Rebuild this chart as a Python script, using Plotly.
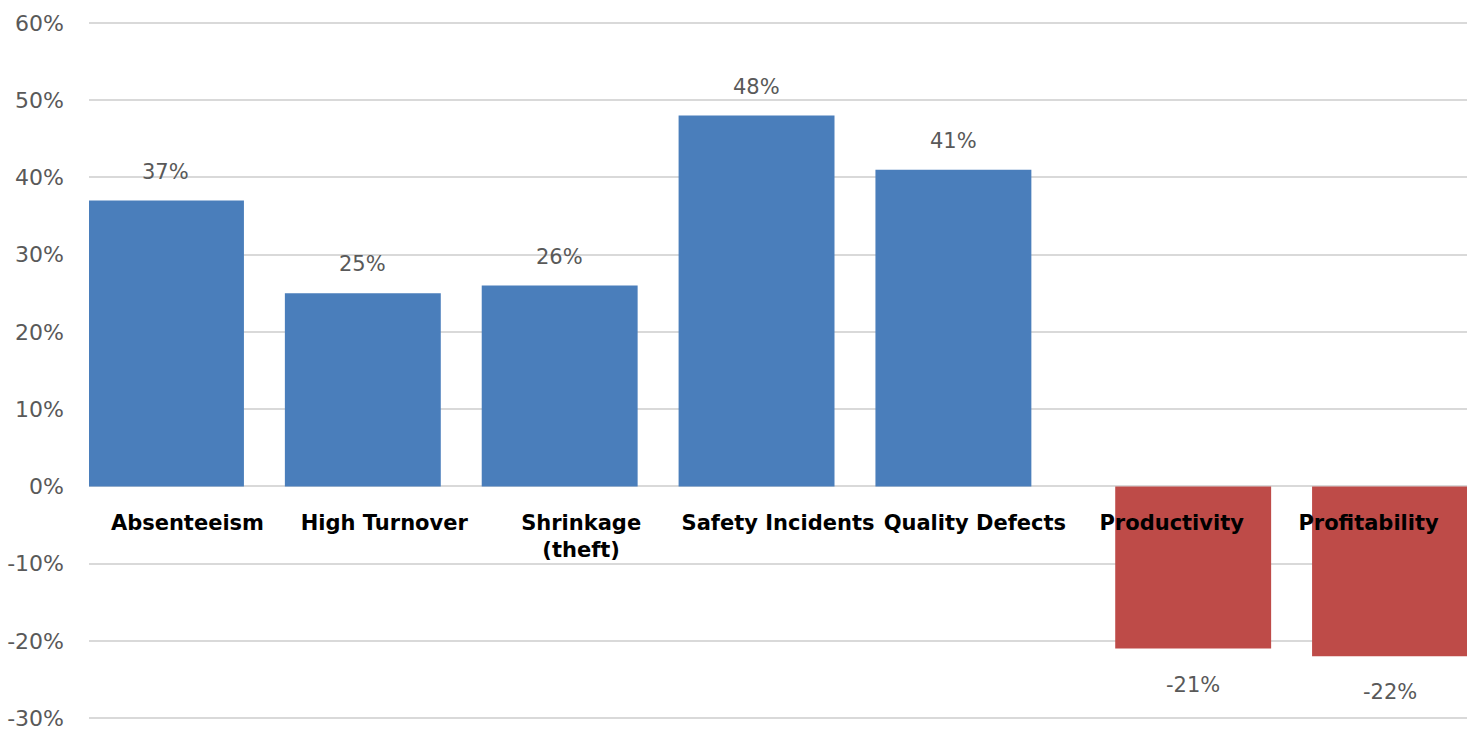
import plotly.graph_objects as go

categories = ["Absenteeism", "High Turnover", "Shrinkage<br>(theft)", "Safety Incidents",
              "Quality Defects", "Productivity", "Profitability"]
increase_values = [37, 25, 26, 48, 41, None, None]
decrease_values = [None, None, None, None, None, -21, -22]
y_ticks = [-30, -20, -10, 0, 10, 20, 30, 40, 50, 60]
y_tick_labels = [f"{v}%" for v in y_ticks]

BLUE = "#4A7EBB"
RED = "#BE4B48"
GRID = "#D9D9D9"
LABEL_GRAY = "#595959"
FONT = "DejaVu Sans"

y_min, y_max = -30.5, 60.5
bar_w = 0.792

fig = go.Figure()
fig.add_trace(go.Bar(x=categories, y=increase_values, marker_color=BLUE,
                     width=bar_w, offset=-0.505, marker_line_width=0,
                     showlegend=False, hoverinfo="skip"))
fig.add_trace(go.Bar(x=categories, y=decrease_values, marker_color=RED,
                     width=bar_w, offset=-0.287, marker_line_width=0,
                     showlegend=False, hoverinfo="skip"))

annotations = []
for i, v in enumerate(increase_values):
    if v is not None:
        annotations.append(dict(x=i - 0.109, y=v, xref="x", yref="y", text=f"{v}%",
                                showarrow=False, yshift=29, yanchor="middle",
                                font=dict(family=FONT, size=21, color=LABEL_GRAY)))
for i, v in enumerate(decrease_values):
    if v is not None:
        annotations.append(dict(x=i + 0.109, y=v, xref="x", yref="y", text=f"{v}%",
                                showarrow=False, yshift=-36, yanchor="middle",
                                font=dict(family=FONT, size=21, color=LABEL_GRAY)))

zero_pos = (0 - y_min) / (y_max - y_min)

fig.update_layout(
    width=1476, height=735,
    margin=dict(l=89, r=9, t=19, b=13),
    paper_bgcolor="white", plot_bgcolor="white",
    barmode="overlay",
    annotations=annotations,
    xaxis=dict(type="category", categoryorder="array", categoryarray=categories,
               range=[-0.5, 6.5], anchor="free", position=zero_pos,
               showgrid=False, showline=False, zeroline=False, automargin=False,
               ticks="outside", ticklen=17, tickcolor="rgba(0,0,0,0)",
               tickfont=dict(family=FONT, size=21, color="black", weight="bold"),
               tickangle=0, layer="above traces"),
    yaxis=dict(range=[y_min, y_max], tickvals=y_ticks, ticktext=y_tick_labels,
               showgrid=True, gridcolor=GRID, gridwidth=2, automargin=False,
               zeroline=True, zerolinecolor=GRID, zerolinewidth=2,
               showline=False, ticks="", ticklabelstandoff=24,
               tickfont=dict(family=FONT, size=22, color=LABEL_GRAY)),
)

fig.write_html("out.html")
